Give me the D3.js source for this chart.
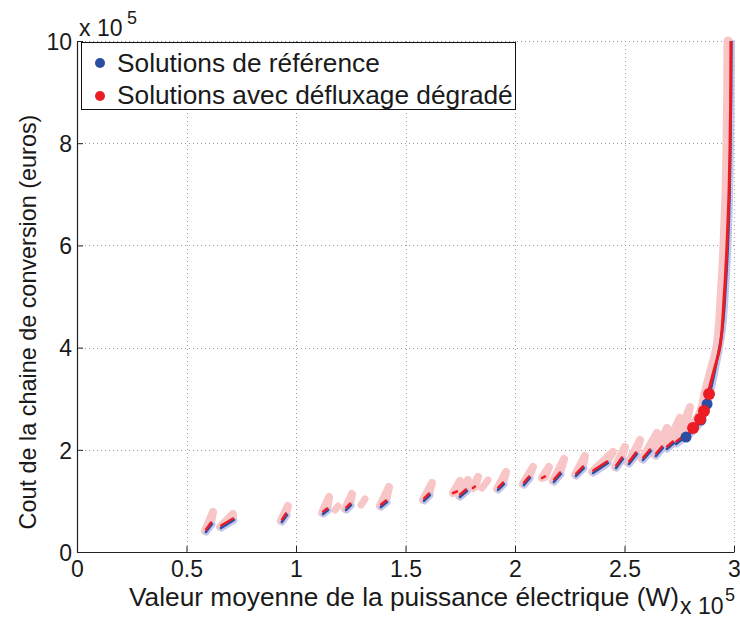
<!DOCTYPE html>
<html><head><meta charset="utf-8">
<script src="https://cdn.jsdelivr.net/npm/d3@7"></script>
<style>body{margin:0;background:#fff}svg{display:block}text{font-family:"Liberation Sans",Arial,sans-serif;fill:#1a1a1a}</style>
</head><body><svg id="c" width="740" height="618"></svg>
<script>
// values in units of 1e5 (W for x, euros for y)
const xTicks = [0, 0.5, 1, 1.5, 2, 2.5, 3];
const xTickLabels = ["0", "0.5", "1", "1.5", "2", "2.5", "3"];
const yTicks = [0, 2, 4, 6, 8, 10];
const yTickLabels = ["0", "2", "4", "6", "8", "10"];

// clusters of solutions: core start, core end, top of degraded cloud
const coreX0 = [0.584,0.653,0.931,1.119,1.224,1.383,1.580,1.717,1.744,1.808,1.918,2.036,2.123,2.173,2.274,2.352,2.457,2.516,2.580,2.639,2.689,2.731];
const coreY0 = [0.411,0.489,0.607,0.763,0.841,0.900,1.018,1.155,1.096,1.252,1.233,1.331,1.448,1.389,1.507,1.566,1.663,1.742,1.820,1.898,2.035,2.133];
const coreX1 = [0.612,0.712,0.954,1.142,1.247,1.411,1.607,1.735,1.776,1.817,1.945,2.064,2.137,2.205,2.310,2.420,2.488,2.552,2.616,2.671,2.721,2.767];
const coreY1 = [0.567,0.646,0.744,0.841,0.939,0.998,1.135,1.174,1.213,1.272,1.350,1.468,1.468,1.546,1.663,1.761,1.839,1.937,1.996,2.055,2.153,2.250];
const topX   = [0.621,0.712,0.963,1.151,1.256,1.425,1.621,1.749,1.785,1.831,1.959,2.082,2.155,2.224,2.319,2.447,2.502,2.571,2.648,2.694,2.753,2.799];
const topY   = [0.783,0.744,0.900,1.076,1.135,1.272,1.350,1.389,1.409,1.468,1.566,1.663,1.663,1.820,1.879,1.957,2.055,2.192,2.329,2.427,2.622,2.837];
const hasBlue = [1,1,1,1,1,1,1,0,1,0,1,1,0,1,1,1,1,1,1,1,1,1];

// isolated degraded-only clouds
const pinkX0 = [1.178, 1.297, 1.849];
const pinkY0 = [0.822, 0.920, 1.252];
const pinkX1 = [1.192, 1.315, 1.877];
const pinkY1 = [0.900, 1.037, 1.409];

// steep front
const redCurveX = [2.781,2.813,2.845,2.863,2.881,2.909,2.936,2.954,2.968,2.977,2.982,2.985,2.986];
const redCurveY = [2.25,2.427,2.603,2.759,3.092,3.56,4.01,4.93,6.01,6.99,8.0,9.04,10.0];
const blueCurveX = [2.781,2.82,2.85,2.877,2.895,2.92,2.945,2.962,2.975,2.982,2.986,2.988];
const blueCurveY = [2.25,2.40,2.58,2.896,3.2,3.7,4.3,5.2,6.3,7.5,8.7,10.0];

// highlighted solutions
const blueDotX = [2.781, 2.849, 2.877];
const blueDotY = [2.25, 2.583, 2.896];
const redDotX = [2.813, 2.845, 2.863, 2.886];
const redDotY = [2.427, 2.603, 2.759, 3.092];

const legendLabels = ["Solutions de référence", "Solutions avec défluxage dégradé"];
const xTitle = "Valeur moyenne de la puissance électrique (W)";
const yTitle = "Cout de la chaine de conversion (euros)";

const BLUE = "#2b4ea2", RED = "#ec1c24", PINK = "#f8c6c6", LBLUE = "#c2c7ea";

const svg = d3.select("#c");
const m = {l: 77, r: 734, t: 41, b: 552};
const x = d3.scaleLinear().domain([0, 3]).range([m.l, m.r]);
const y = d3.scaleLinear().domain([0, 10]).range([m.b, m.t]);

// grid
const grid = svg.append("g").attr("stroke", "#9a9a9a").attr("stroke-width", 1).attr("stroke-dasharray", "1,3");
grid.selectAll(".gx").data(xTicks.slice(1)).join("line")
  .attr("x1", d => Math.round(x(d)) + 0.5).attr("x2", d => Math.round(x(d)) + 0.5)
  .attr("y1", m.t).attr("y2", m.b);
grid.selectAll(".gy").data(yTicks.slice(1)).join("line")
  .attr("y1", d => Math.round(y(d)) + 0.5).attr("y2", d => Math.round(y(d)) + 0.5)
  .attr("x1", m.l).attr("x2", m.r);

const idx = d3.range(coreX0.length);
const plot = svg.append("g");
// pink clouds
plot.selectAll(".cloud").data(idx).join("polygon")
  .attr("points", i => [[x(coreX0[i]), y(coreY0[i])], [x(topX[i]), y(topY[i])], [x(coreX1[i]), y(coreY1[i])]].join(" "))
  .attr("fill", PINK).attr("stroke", PINK).attr("stroke-width", 8).attr("stroke-linejoin", "round");
plot.selectAll(".pcloud").data(d3.range(pinkX0.length)).join("line")
  .attr("x1", i => x(pinkX0[i])).attr("y1", i => y(pinkY0[i]))
  .attr("x2", i => x(pinkX1[i])).attr("y2", i => y(pinkY1[i]))
  .attr("stroke", PINK).attr("stroke-width", 7).attr("stroke-linecap", "round");

// curve band
const line = d3.line().x(d => x(d[0])).y(d => y(d[1])).curve(d3.curveMonotoneY);
const redPts = redCurveX.map((v, i) => [v, redCurveY[i]]);
const bluePts = blueCurveX.map((v, i) => [v, blueCurveY[i]]);
plot.append("path").attr("d", line(redPts)).attr("transform", "translate(-3,0)")
  .attr("fill", "none").attr("stroke", PINK).attr("stroke-width", 9).attr("stroke-linecap", "round");
plot.append("path").attr("d", line(bluePts)).attr("transform", "translate(1,1)")
  .attr("fill", "none").attr("stroke", LBLUE).attr("stroke-width", 5).attr("stroke-linecap", "round");

// light blue halo on cores
plot.selectAll(".halo").data(idx.filter(i => hasBlue[i])).join("line")
  .attr("x1", i => x(coreX0[i]) + 1.5).attr("y1", i => y(coreY0[i]) + 1.5)
  .attr("x2", i => x(coreX1[i]) + 1.5).attr("y2", i => y(coreY1[i]) + 1.5)
  .attr("stroke", LBLUE).attr("stroke-width", 6).attr("stroke-linecap", "round");
// blue cores
plot.selectAll(".bcore").data(idx.filter(i => hasBlue[i])).join("line")
  .attr("x1", i => x(coreX0[i]) + 1).attr("y1", i => y(coreY0[i]) + 1)
  .attr("x2", i => x(coreX1[i]) + 1).attr("y2", i => y(coreY1[i]) + 1)
  .attr("stroke", BLUE).attr("stroke-width", 2.5).attr("stroke-linecap", "round");
// red cores
plot.selectAll(".rcore").data(idx).join("line")
  .attr("x1", i => x(coreX0[i]) + (hasBlue[i] ? 1.2 : 0)).attr("y1", i => y(coreY0[i]) - (hasBlue[i] ? 1.5 : 0))
  .attr("x2", i => x(coreX1[i])).attr("y2", i => y(coreY1[i]) - 0.5)
  .attr("stroke", RED).attr("stroke-width", 2.5).attr("stroke-linecap", "round");

// front curves
plot.append("path").attr("d", line(bluePts)).attr("fill", "none").attr("stroke", BLUE).attr("stroke-width", 2.5);
plot.append("path").attr("d", line(redPts)).attr("fill", "none").attr("stroke", RED).attr("stroke-width", 3);

// dots
plot.selectAll(".bd").data(blueDotX).join("circle")
  .attr("cx", d => x(d)).attr("cy", (d, i) => y(blueDotY[i])).attr("r", 5.5).attr("fill", BLUE);
plot.selectAll(".rd").data(redDotX).join("circle")
  .attr("cx", d => x(d)).attr("cy", (d, i) => y(redDotY[i])).attr("r", 6).attr("fill", RED);

// axes
const ax = svg.append("g").attr("transform", `translate(0,${m.b})`)
  .call(d3.axisBottom(x).tickValues(xTicks).tickFormat((d, i) => xTickLabels[i]).tickSize(-6).tickPadding(9).tickSizeOuter(0));
const ay = svg.append("g").attr("transform", `translate(${m.l},0)`)
  .call(d3.axisLeft(y).tickValues(yTicks).tickFormat((d, i) => yTickLabels[i]).tickSize(-6).tickPadding(5).tickSizeOuter(0));
[ax, ay].forEach(g => {
  g.select(".domain").attr("stroke", "#222").attr("stroke-width", 1.2);
  g.selectAll(".tick line").attr("stroke", "#222");
  g.selectAll(".tick text").attr("font-size", 23).attr("font-family", "Liberation Sans, Arial, sans-serif").attr("fill", "#1a1a1a");
});
ay.selectAll(".tick text").attr("dy", "0.36em");

// fit text to width helper
function fit(t, target) {
  const w = t.node().getComputedTextLength();
  const fs = parseFloat(t.attr("font-size"));
  t.attr("font-size", (fs * target / w).toFixed(2));
}

// multipliers
svg.append("text").attr("x", 79).attr("y", 36).attr("font-size", 23).text("x 10");
svg.append("text").attr("x", 127).attr("y", 24).attr("font-size", 18).text("5");
svg.append("text").attr("x", 680).attr("y", 614).attr("font-size", 23).text("x 10");
svg.append("text").attr("x", 725).attr("y", 601).attr("font-size", 18).text("5");

// titles
const xt = svg.append("text").attr("x", 404).attr("y", 606).attr("text-anchor", "middle").attr("font-size", 24).text(xTitle);
fit(xt, 550);
const yt = svg.append("text").attr("transform", "translate(36,322) rotate(-90)").attr("text-anchor", "middle").attr("font-size", 24).text(yTitle);
fit(yt, 415);

// legend
const lg = svg.append("g");
lg.append("rect").attr("x", 81.5).attr("y", 42.5).attr("width", 434).attr("height", 67)
  .attr("fill", "#fff").attr("stroke", "#111").attr("stroke-width", 1);
const legColors = [BLUE, RED];
legendLabels.forEach((lab, i) => {
  lg.append("circle").attr("cx", 100).attr("cy", 63 + i * 33).attr("r", 5).attr("fill", legColors[i]);
  const t = lg.append("text").attr("x", 117).attr("y", 71.5 + i * 32).attr("font-size", 24).text(lab);
  fit(t, i === 0 ? 263 : 396);
});
</script></body></html>
